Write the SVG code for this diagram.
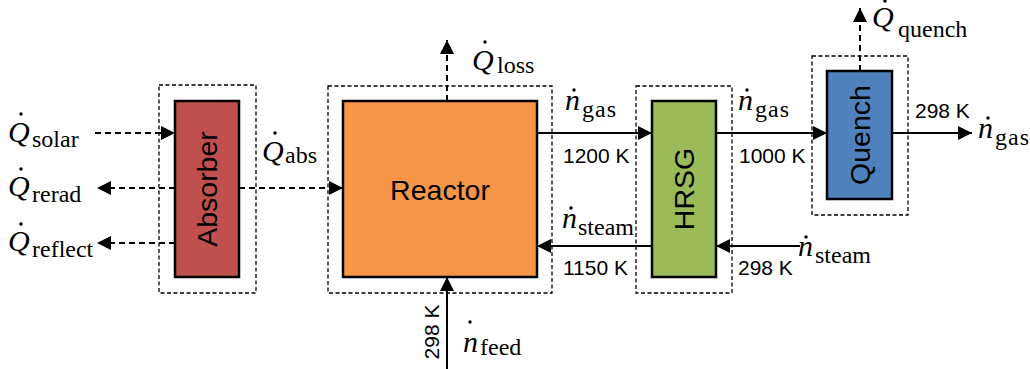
<svg xmlns="http://www.w3.org/2000/svg" width="1030" height="369" viewBox="0 0 1030 369">
<defs>
<style>
.box{stroke:#000;stroke-width:2.5}
.sys{fill:none;stroke:#000;stroke-width:1.3;stroke-dasharray:4 2.5}
.flow{stroke:#000;stroke-width:2;fill:none}
.dash{stroke-dasharray:6 4}
.sans{font-family:"Liberation Sans",Arial,sans-serif;font-size:21px;fill:#000}
.lbl{font-family:"Liberation Sans",Arial,sans-serif;font-size:28.5px;fill:#000}
.m{font-family:"Liberation Serif","Times New Roman",serif;fill:#000}
.mi{font-style:italic;font-size:30px}
.sub{font-size:24px}
.dot{fill:#000}
</style>
<marker id="ah" markerUnits="userSpaceOnUse" markerWidth="14" markerHeight="14" refX="14" refY="7" orient="auto">
<path d="M0,0 L14,7 L0,14 z" fill="#000"/>
</marker>
</defs>
<rect width="1030" height="369" fill="#fff"/>

<g id="absorber">
<rect class="sys" x="159" y="85" width="97" height="208"/>
<rect class="box" x="175" y="101" width="64" height="176" fill="#C0504D"/>
<text class="lbl" text-anchor="middle" transform="translate(217,189) rotate(-90)">Absorber</text>
</g>

<g id="reactor">
<rect class="sys" x="328" y="86" width="224" height="207"/>
<rect class="box" x="343" y="101" width="194" height="176" fill="#F79646"/>
<text class="lbl" x="440" y="200" text-anchor="middle">Reactor</text>
</g>

<g id="hrsg">
<rect class="sys" x="636" y="86" width="96" height="207"/>
<rect class="box" x="652" y="101" width="64" height="176" fill="#9BBB59"/>
<text class="lbl" text-anchor="middle" transform="translate(694,189) rotate(-90)">HRSG</text>
</g>

<g id="quench">
<rect class="sys" x="812" y="56" width="96" height="159"/>
<rect class="box" x="827" y="71" width="65" height="128" fill="#4F81BD"/>
<text class="lbl" text-anchor="middle" transform="translate(870,135) rotate(-90)">Quench</text>
</g>

<g id="connectors">
<path class="flow dash" d="M95,133 H175" marker-end="url(#ah)"/>
<path class="flow dash" d="M175,188 H97" marker-end="url(#ah)"/>
<path class="flow dash" d="M175,243 H97" marker-end="url(#ah)"/>
<path class="flow dash" d="M239,188 H343" marker-end="url(#ah)"/>
<path class="flow dash" d="M447,101 V40" marker-end="url(#ah)"/>
<path class="flow" d="M537,133 H652" marker-end="url(#ah)"/>
<path class="flow" d="M652,246 H537" marker-end="url(#ah)"/>
<path class="flow" d="M447,369 V277" marker-end="url(#ah)"/>
<path class="flow" d="M716,133 H827" marker-end="url(#ah)"/>
<path class="flow" d="M800,246 H716" marker-end="url(#ah)"/>
<path class="flow" d="M892,133 H972" marker-end="url(#ah)"/>
<path class="flow dash" d="M860,71 V8" marker-end="url(#ah)"/>
</g>

<g id="labels">
<text class="m"><tspan class="mi" x="8" y="142">Q</tspan><tspan class="sub" x="32" y="147">solar</tspan></text>
<circle class="dot" cx="21" cy="114" r="1.7"/>
<text class="m"><tspan class="mi" x="8" y="196">Q</tspan><tspan class="sub" x="32" y="202">rerad</tspan></text>
<circle class="dot" cx="21" cy="169" r="1.7"/>
<text class="m"><tspan class="mi" x="8" y="251">Q</tspan><tspan class="sub" x="32" y="257">reflect</tspan></text>
<circle class="dot" cx="21" cy="224" r="1.7"/>
<text class="m"><tspan class="mi" x="262" y="161">Q</tspan><tspan class="sub" x="285" y="163">abs</tspan></text>
<circle class="dot" cx="275" cy="133" r="1.7"/>
<text class="m"><tspan class="mi" x="472" y="70">Q</tspan><tspan class="sub" x="497" y="73">loss</tspan></text>
<circle class="dot" cx="485" cy="42" r="1.7"/>
<text class="m"><tspan class="mi" x="872" y="27">Q</tspan><tspan class="sub" x="898" y="37">quench</tspan></text>
<circle class="dot" cx="885" cy="1" r="1.7"/>

<text class="m"><tspan class="mi" x="565" y="110">n</tspan><tspan class="sub" x="582" y="117" letter-spacing="1">gas</tspan></text>
<circle class="dot" cx="574" cy="90" r="1.7"/>
<text class="m"><tspan class="mi" x="738" y="110">n</tspan><tspan class="sub" x="755" y="117" letter-spacing="1">gas</tspan></text>
<circle class="dot" cx="747" cy="90" r="1.7"/>
<text class="m"><tspan class="mi" x="978" y="138">n</tspan><tspan class="sub" x="995" y="145" letter-spacing="1">gas</tspan></text>
<circle class="dot" cx="988" cy="118" r="1.7"/>
<text class="m"><tspan class="mi" x="562" y="228">n</tspan><tspan class="sub" x="578" y="235">steam</tspan></text>
<circle class="dot" cx="571" cy="208" r="1.7"/>
<text class="m"><tspan class="mi" x="798" y="256">n</tspan><tspan class="sub" x="815" y="263">steam</tspan></text>
<circle class="dot" cx="806" cy="237" r="1.7"/>
<text class="m"><tspan class="mi" x="463" y="352">n</tspan><tspan class="sub" x="480" y="355">feed</tspan></text>
<circle class="dot" cx="470" cy="322" r="1.7"/>

<text class="sans" x="563" y="163">1200 K</text>
<text class="sans" x="563" y="275">1150 K</text>
<text class="sans" x="739" y="163">1000 K</text>
<text class="sans" x="738" y="275">298 K</text>
<text class="sans" x="915" y="118">298 K</text>
<text class="sans" text-anchor="middle" transform="translate(439,332) rotate(-90)">298 K</text>
</g>
</svg>
